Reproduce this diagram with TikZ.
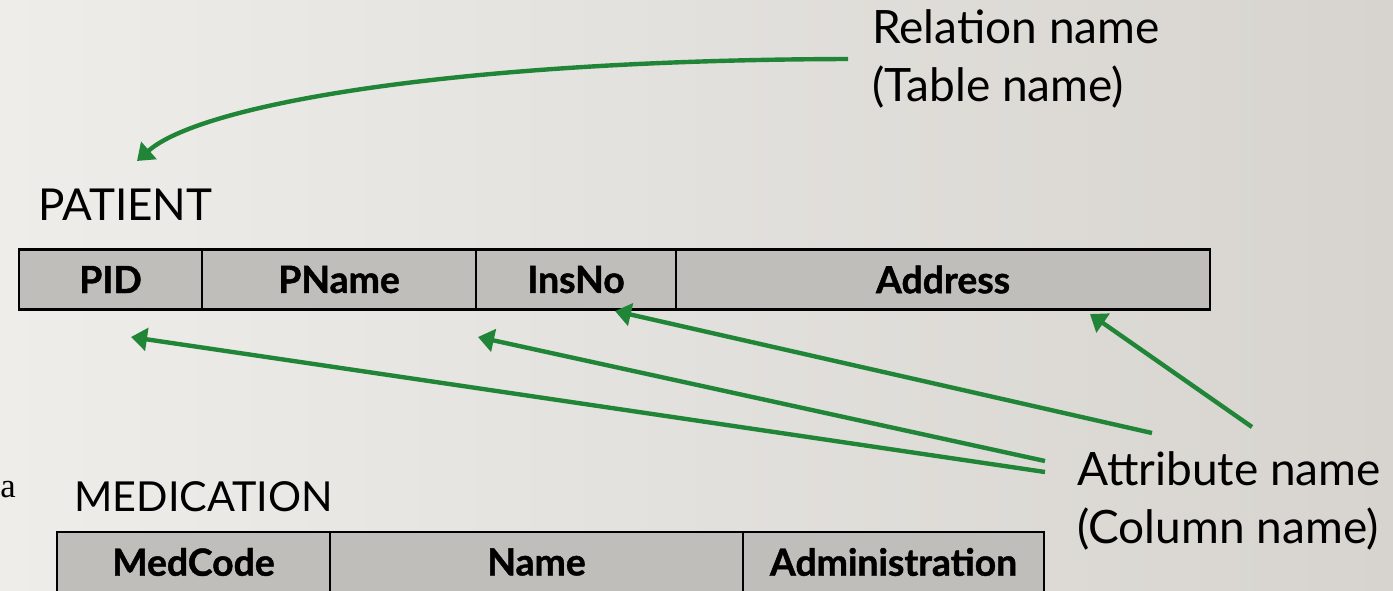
\documentclass[tikz,border=0pt]{standalone}
\usepackage{fontspec}
\newfontfamily\labelfont{Lato}
\newfontfamily\headfont[BoldFeatures={FakeBold=1.2}]{Lato}
\newfontfamily\strayfont{Liberation Serif}
\usetikzlibrary{arrows.meta}
\definecolor{pointer}{RGB}{33,133,56}
\definecolor{cellgray}{RGB}{191,190,187}
\definecolor{bgleft}{RGB}{238,237,234}
\definecolor{bgright}{RGB}{215,212,207}
\begin{document}
\begin{tikzpicture}[x=0.75pt,y=-0.75pt,
  cell/.style={draw=black, line width=1.7pt, fill=cellgray, minimum height=45pt,
    inner sep=0pt, font=\headfont\bfseries\fontsize{28}{32}\selectfont},
  title/.style={font=\labelfont\fontsize{33}{40}\selectfont, inner sep=0pt},
  note/.style={font=\labelfont\fontsize{34.5}{43.5}\selectfont, align=left, inner sep=0pt},
  pointer/.style={draw=pointer, line width=3.3pt, -{Triangle[length=12pt,width=17pt]}}]
\useasboundingbox (0,0) rectangle (1393,590);
\clip (0,0) rectangle (1393,590);
\shade[left color=bgleft, right color=bgright] (0,0) rectangle (1393,590);

% labels
\node[note, anchor=west] (relname) at (872,59) {Relation name\\(Table name)};
\node[note, anchor=west] (attrname) at (1077,501) {Attribute name\\(Column name)};
\node[title, anchor=west] (patient) at (38,205) {PATIENT};
\node[title, anchor=west, font=\labelfont\fontsize{31}{36}\selectfont] (medication) at (74,497) {MEDICATION};
\node[inner sep=0pt] (stray) at (8,490) {\strayfont\fontsize{26}{30}\selectfont a};

% PATIENT relation
\node[cell, minimum width=137.25pt] (pid) at (110.5,279.5) {PID};
\node[cell, minimum width=205.5pt] (pname) at (339,279.5) {PName};
\node[cell, minimum width=150pt] (insno) at (576,279.5) {InsNo};
\node[cell, minimum width=400.5pt] (address) at (943,279.5) {Address};

% MEDICATION relation
\node[cell, minimum width=204.75pt] (medcode) at (193.5,562) {MedCode};
\node[cell, minimum width=309.75pt] (medname) at (536.5,562) {Name};
\node[cell, minimum width=225.75pt] (admin) at (893.5,562) {Administration};

% pointer ends
\coordinate (reltip) at (137,161);
\coordinate (pidtip) at (131,337);
\coordinate (pnametip) at (478,337);
\coordinate (insnotip) at (615,311);
\coordinate (addrtip) at (1090,314);
\coordinate (fromPID) at (1045,472);
\coordinate (fromPName) at (1045,461);
\coordinate (fromInsNo) at (1152,433);
\coordinate (fromAddr) at (1252,427);

% pointers
\draw[pointer] ([xshift=-18pt]relname.west) .. controls (450,60) and (200,105) .. (reltip);
\draw[pointer] (fromPID) -- (pidtip);
\draw[pointer] (fromPName) -- (pnametip);
\draw[pointer] (fromInsNo) -- (insnotip);
\draw[pointer] (fromAddr) -- (addrtip);
\end{tikzpicture}
\end{document}
